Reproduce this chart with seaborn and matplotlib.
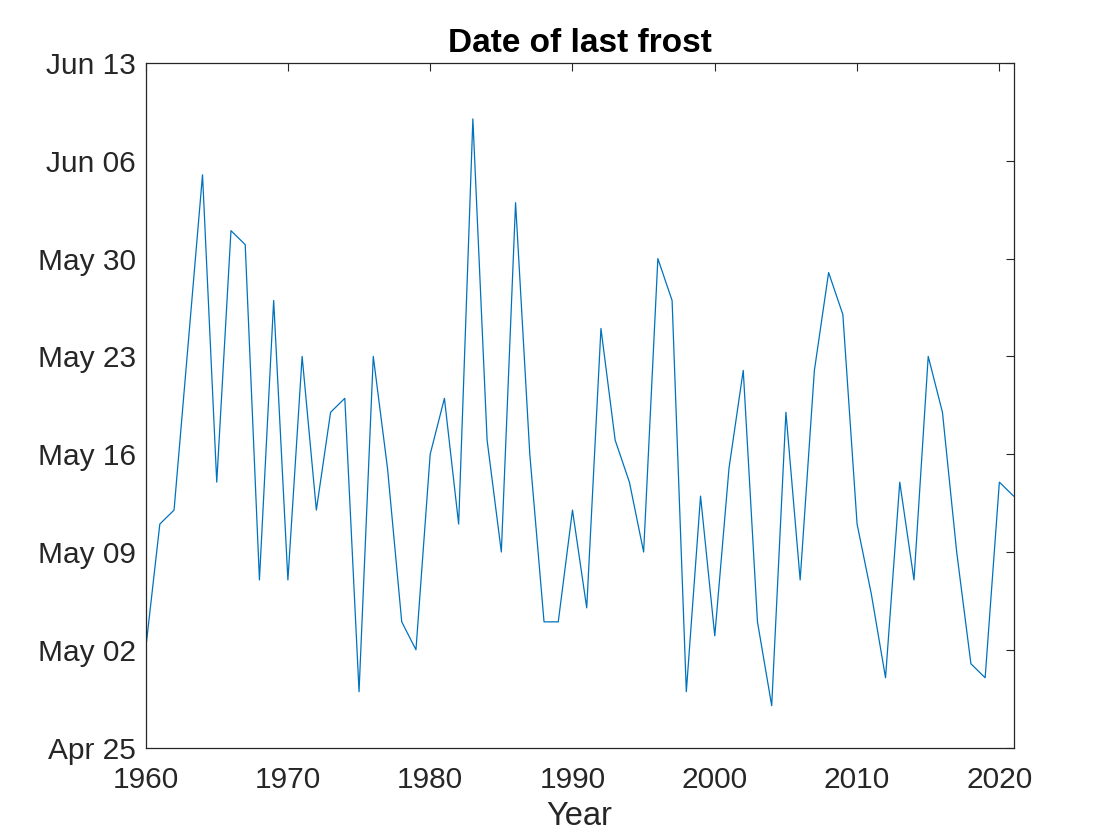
"""
Date of last frost, 1960-2021.
"""
import pandas as pd
import numpy as np
import matplotlib
matplotlib.use("Agg")
import matplotlib.pyplot as plt
import matplotlib.dates as mdates
import seaborn as sns

# Year of each observation
years = list(range(1960, 2022))

# Date of last frost (month-day)
last_frost = [
    "05-02", "05-11", "05-12", "05-24", "06-05", "05-14", "06-01", "05-31",
    "05-07", "05-27", "05-07", "05-23", "05-12", "05-19", "05-20", "04-29",
    "05-23", "05-15", "05-04", "05-02", "05-16", "05-20", "05-11", "06-09",
    "05-17", "05-09", "06-03", "05-16", "05-04", "05-04", "05-12", "05-05",
    "05-25", "05-17", "05-14", "05-09", "05-30", "05-27", "04-29", "05-13",
    "05-03", "05-15", "05-22", "05-04", "04-28", "05-19", "05-07", "05-22",
    "05-29", "05-26", "05-11", "05-06", "04-30", "05-14", "05-07", "05-23",
    "05-19", "05-09", "05-01", "04-30", "05-14", "05-13",
]

# Axis limits / ticks
x_ticks = [1960, 1970, 1980, 1990, 2000, 2010, 2020]
y_first = "04-25"
y_last = "06-13"
y_step_days = 7

REF_YEAR = 2001  # dummy year to place month-day values on one axis

df = pd.DataFrame({
    "year": years,
    "date": pd.to_datetime([f"{REF_YEAR}-{d}" for d in last_frost]),
})

sns.set_style("white")
plt.rcParams["font.family"] = ["Liberation Sans", "DejaVu Sans"]

dark = "#262626"
fig = plt.figure(figsize=(11.2, 8.4), dpi=100)
ax = fig.add_axes([0.13, 0.11, 0.775, 0.815])

sns.lineplot(data=df, x="year", y="date", estimator=None, color="#0072BD",
             linewidth=0.9, ax=ax)

y0 = pd.Timestamp(f"{REF_YEAR}-{y_first}")
y1 = pd.Timestamp(f"{REF_YEAR}-{y_last}")
ax.set_ylim(y0, y1)
ax.set_yticks(pd.date_range(y0, y1, freq=f"{y_step_days}D"))
ax.yaxis.set_major_formatter(mdates.DateFormatter("%b %d"))

ax.set_xlim(years[0], years[-1])
ax.set_xticks(x_ticks)

ax.set_title("Date of last frost", fontsize=24, fontweight="bold", color="black", pad=8)
ax.set_xlabel("Year", fontsize=23.5, color=dark, labelpad=5)
ax.set_ylabel("")

ax.tick_params(axis="both", which="major", direction="in", length=6, width=0.8,
               labelsize=21.5, colors=dark, top=True, right=True)
ax.tick_params(axis="x", pad=13)
ax.tick_params(axis="y", pad=7)
for spine in ax.spines.values():
    spine.set_visible(True)
    spine.set_color(dark)
    spine.set_linewidth(0.9)

fig.savefig("out.png", dpi=100)
